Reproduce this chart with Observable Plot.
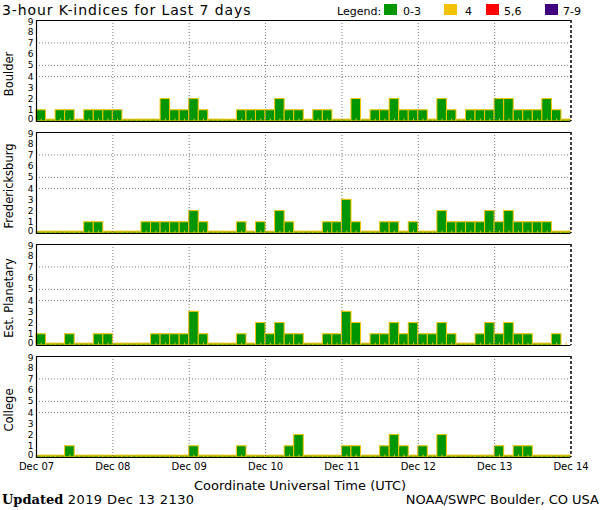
<!DOCTYPE html>
<html>
<head>
<meta charset="utf-8">
<script src="https://cdn.jsdelivr.net/npm/d3@7"></script>
<script src="https://cdn.jsdelivr.net/npm/@observablehq/plot@0.6"></script>
<style>
  body { margin: 0; background: #fff; }
  #wrap { position: relative; width: 600px; height: 510px; overflow: hidden; font-family: "DejaVu Sans", sans-serif; color: #000; }
  #wrap svg { position: absolute; left: 0; top: 0; }
  .abs { position: absolute; line-height: 1; white-space: nowrap; }
  .sw { position: absolute; width: 13px; height: 11px; }
</style>
</head>
<body>
<div id="wrap"></div>
<script>
// ---- data (K-index per 3-hour interval, 8 per day, Dec 07 - Dec 13) ----
const stations = ["Boulder", "Fredericksburg", "Est. Planetary", "College"];
const boulder = [1,0,1,1,0,1,1,1, 1,0,0,0,0,2,1,1, 2,1,0,0,0,1,1,1, 1,2,1,1,0,1,1,0, 0,2,0,1,1,2,1,1, 1,0,2,1,0,1,1,1, 2,2,1,1,1,2,1,0];
const fredericksburg = [0,0,0,0,0,1,1,0, 0,0,0,1,1,1,1,1, 2,1,0,0,0,1,0,1, 0,2,1,0,0,0,1,1, 3,1,0,0,1,1,0,1, 0,0,2,1,1,1,1,2, 1,2,1,1,1,1,0,0];
const planetary = [1,0,0,1,0,0,1,1, 0,0,0,0,1,1,1,1, 3,1,0,0,0,1,0,2, 1,2,1,1,0,0,1,1, 3,2,0,1,1,2,1,2, 1,1,2,1,0,0,1,2, 1,2,1,1,0,0,1,null];
const college = [0,0,0,1,0,0,0,0, 0,0,0,0,0,0,0,0, 1,0,0,0,0,1,0,0, 0,0,1,2,0,0,0,0, 1,1,0,0,1,2,1,0, 1,0,2,0,0,0,0,0, 1,0,1,1,0,0,0,0];
const dayLabels = ["Dec 07", "Dec 08", "Dec 09", "Dec 10", "Dec 11", "Dec 12", "Dec 13", "Dec 14"];
const kTicks = [0,1,2,3,4,5,6,7,8,9];
const gridLevels = [4,5,7];
const legendLabels = ["0-3", "4", "5,6", "7-9"];
const legendColors = ["#009600", "#f2c200", "#ff0000", "#400080"];
const titleText = "3-hour K-indices for Last 7 days";
const xLabel = "Coordinate Universal Time (UTC)";
const updatedDate = "2019 Dec 13 2130";
const sourceText = "NOAA/SWPC Boulder, CO USA";

const series = [boulder, fredericksburg, planetary, college];
const perDay = 8;
const rows = [];
series.forEach((vals, s) => vals.forEach((k, i) => rows.push({station: stations[s], i, k})));
const bars = rows.filter(d => d.k !== null);
const kFill = k => k <= 3 ? legendColors[0] : k === 4 ? legendColors[1] : k <= 6 ? legendColors[2] : legendColors[3];
const outline = "#f5c400";
const dayTicks = d3.range(dayLabels.length);

const chart = Plot.plot({
  width: 600,
  height: 510,
  marginTop: 20,
  marginBottom: 52,
  marginLeft: 36,
  marginRight: 29.5,
  style: {fontFamily: "DejaVu Sans, sans-serif", background: "transparent", overflow: "visible"},
  x: {domain: [0, 7], axis: null},
  y: {domain: [0, 9], axis: null},
  fy: {domain: stations, axis: null, paddingInner: 0.095, paddingOuter: 0},
  marks: [
    Plot.ruleY(gridLevels, {stroke: "#7a7a7a", strokeDasharray: "1,2"}),
    Plot.rectY(bars, {
      x1: d => d.i / perDay, x2: d => (d.i + 1) / perDay,
      y1: 0, y2: d => Math.max(d.k, 0.16),
      fy: "station",
      fill: d => kFill(d.k), stroke: outline, strokeWidth: 1
    }),
    Plot.ruleX(rows, {x: d => (d.i + 0.5) / perDay, y1: 0, y2: 0.22, fy: "station", stroke: outline, strokeWidth: 1}),
    Plot.ruleX(dayTicks.slice(1, -1), {stroke: "#7a7a7a", strokeDasharray: "1,2"}),
    Plot.ruleY([9], {stroke: "#000", strokeWidth: 1.2}),
    Plot.ruleY([0], {stroke: "#000", strokeWidth: 1.2}),
    Plot.ruleX([0], {stroke: "#000", strokeWidth: 1.2}),
    Plot.ruleX([7], {stroke: "#000", strokeWidth: 1.5, strokeDasharray: "3,2"}),
    Plot.axisY(kTicks.filter(k => k > 0 && k < 9), {tickSize: 0, tickPadding: 3, fontSize: 9, label: null}),
    Plot.axisY([0], {tickSize: 0, tickPadding: 3, fontSize: 9, label: null, dy: -2}),
    Plot.axisY([9], {tickSize: 0, tickPadding: 3, fontSize: 9, label: null, dy: 2}),
    Plot.axisX(dayTicks, {tickSize: 0, tickPadding: 5, fontSize: 10, label: null, facetAnchor: "bottom", tickFormat: i => dayLabels[i]}),
    Plot.text(stations, {fy: d => d, text: d => d, frameAnchor: "left", rotate: -90, dx: -27, dy: 3, fontSize: 11.5, lineAnchor: "middle", textAnchor: "middle"})
  ]
});

const wrap = document.getElementById("wrap");
wrap.appendChild(chart);

function addText(text, style, cls = "abs") {
  const el = document.createElement("div");
  el.className = cls;
  el.textContent = text;
  Object.assign(el.style, style);
  wrap.appendChild(el);
  return el;
}
// title
addText(titleText, {left: "2px", top: "3px", fontSize: "14px", letterSpacing: "0.9px"});
// legend
addText("Legend:", {left: "337px", top: "5.7px", fontSize: "11px"});
const swX = [384, 444, 486, 545];
const labX = [403, 465, 504, 563];
legendLabels.forEach((lab, j) => {
  const sw = document.createElement("div");
  sw.className = "sw";
  Object.assign(sw.style, {left: swX[j] + "px", top: "4px", background: legendColors[j]});
  wrap.appendChild(sw);
  addText(lab, {left: labX[j] + "px", top: "5.7px", fontSize: "11px"});
});
// x label
addText(xLabel, {left: "0px", width: "600px", textAlign: "center", top: "479px", fontSize: "13px"});
// footer
const upd = document.createElement("div");
upd.className = "abs";
Object.assign(upd.style, {left: "2px", top: "492.5px", fontSize: "13px"});
const b = document.createElement("span");
b.textContent = "Updated";
Object.assign(b.style, {fontFamily: "DejaVu Serif, serif", fontWeight: "bold"});
upd.appendChild(b);
const ds = document.createElement("span");
ds.textContent = " " + updatedDate;
ds.style.letterSpacing = "0.4px";
upd.appendChild(ds);
wrap.appendChild(upd);
addText(sourceText, {right: "1px", top: "493px", fontSize: "13px"});
</script>
</body>
</html>
